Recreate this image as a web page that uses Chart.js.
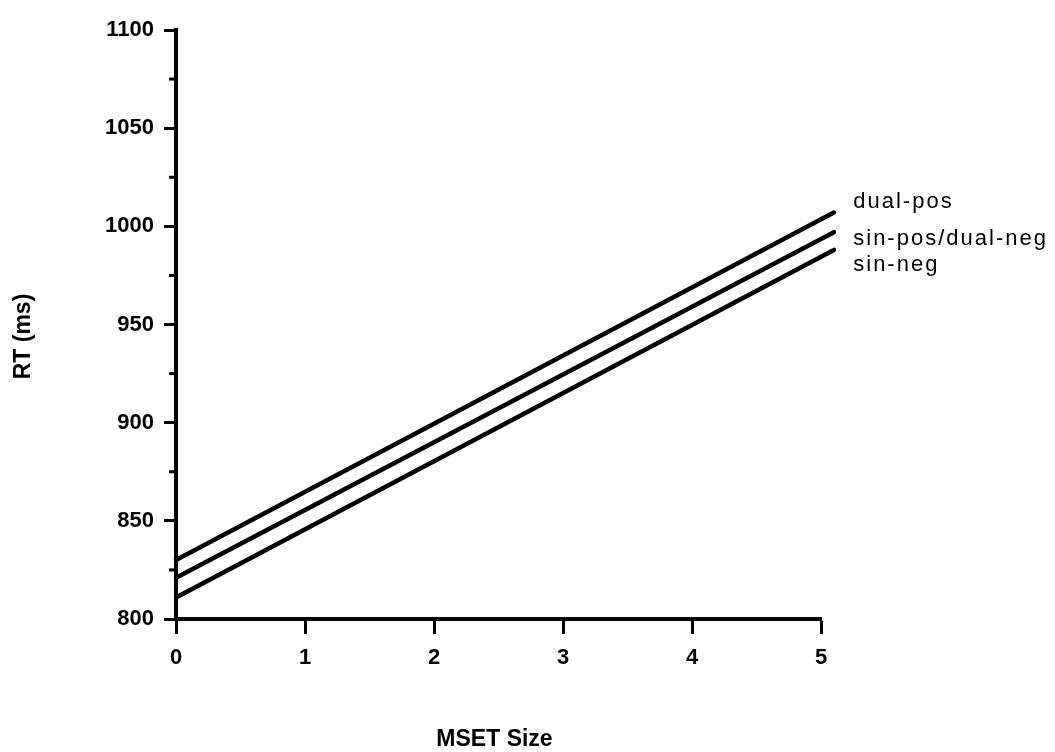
<!DOCTYPE html>
<html>
<head>
<meta charset="utf-8">
<script src="https://cdn.jsdelivr.net/npm/chart.js@4.4.0/dist/chart.umd.min.js"></script>
<style>
  html, body { margin: 0; padding: 0; background: #fff; }
  #wrap { width: 1055px; height: 752px; position: relative; }
</style>
</head>
<body>
<div id="wrap"><canvas id="c" width="1055" height="752"></canvas></div>
<script>
// ---- data ----
const msetSize = [0, 5.1];
const dualPos = [830, 1007];
const sinPosDualNeg = [821, 997];
const sinNeg = [811, 988];
const seriesNames = ['dual-pos', 'sin-pos/dual-neg', 'sin-neg'];
const yTickValues = [800, 850, 900, 950, 1000, 1050, 1100];
const yMinorValues = [825, 875, 925, 975, 1025, 1075];
const xTickValues = [0, 1, 2, 3, 4, 5];
const xTitle = 'MSET Size';
const yTitle = 'RT (ms)';
// label anchors (data units) for the right-hand series labels
const labelAnchorX = 5.25;
const labelAnchorY = [1009.5, 990.5, 977.5];

const seriesValues = [dualPos, sinPosDualNeg, sinNeg];

function toPoints(xs, ys) {
  return xs.map((x, i) => ({ x: x, y: ys[i] }));
}

const datasets = seriesValues.map((vals, i) => ({
  label: seriesNames[i],
  data: toPoints(msetSize, vals),
  borderColor: '#000',
  borderWidth: 4.5,
  borderCapStyle: 'round',
  pointRadius: 0,
  tension: 0,
  clip: false
}));

const decor = {
  id: 'decor',
  afterDraw(chart) {
    const ctx = chart.ctx;
    const xs = chart.scales.x, ys = chart.scales.y;
    const left = chart.chartArea.left;
    ctx.save();
    // minor ticks on the y axis
    ctx.strokeStyle = '#000';
    ctx.lineWidth = 3;
    yMinorValues.forEach(v => {
      const py = ys.getPixelForValue(v);
      ctx.beginPath();
      ctx.moveTo(left - 7, py);
      ctx.lineTo(left, py);
      ctx.stroke();
    });
    // series labels
    ctx.fillStyle = '#000';
    ctx.font = '22px "Liberation Sans", Arial, sans-serif';
    ctx.textAlign = 'left';
    ctx.textBaseline = 'alphabetic';
    try { ctx.letterSpacing = '2px'; } catch (e) {}
    const lx = xs.getPixelForValue(labelAnchorX);
    seriesNames.forEach((name, i) => {
      ctx.fillText(name, lx, ys.getPixelForValue(labelAnchorY[i]));
    });
    try { ctx.letterSpacing = '0px'; } catch (e) {}
    // axis titles
    ctx.font = 'bold 23px "Liberation Sans", Arial, sans-serif';
    ctx.textAlign = 'center';
    ctx.textBaseline = 'middle';
    const ca = chart.chartArea;
    ctx.fillText(xTitle, (ca.left + ca.right) / 2 - 4, ca.bottom + 121);
    ctx.translate(24, (ca.top + ca.bottom) / 2 + 12);
    ctx.rotate(-Math.PI / 2);
    ctx.fillText(yTitle, 0, 0);
    ctx.restore();
  }
};

const tickFont = { family: '"Liberation Sans", Arial, sans-serif', size: 22, weight: 'bold' };

new Chart(document.getElementById('c'), {
  type: 'line',
  data: { datasets: datasets },
  options: {
    responsive: false,
    animation: false,
    layout: { padding: { left: 0, top: 30, right: 234, bottom: 0 } },
    plugins: { legend: { display: false }, tooltip: { enabled: false } },
    scales: {
      x: {
        type: 'linear',
        min: 0, max: 5,
        afterBuildTicks: s => { s.ticks = xTickValues.map(v => ({ value: v })); },
        afterFit: s => { s.height = 133; },
        ticks: {
          color: '#000',
          padding: 11,
          font: tickFont,
          callback: v => String(v)
        },
        grid: { drawOnChartArea: false, tickLength: 15, tickWidth: 3, tickColor: '#000' },
        border: { color: '#000', width: 4 }
      },
      y: {
        type: 'linear',
        min: 800, max: 1100,
        afterBuildTicks: s => { s.ticks = yTickValues.map(v => ({ value: v })); },
        afterFit: s => { s.width = 176; },
        ticks: {
          color: '#000',
          padding: 10,
          font: tickFont,
          callback: v => String(v)
        },
        grid: { drawOnChartArea: false, tickLength: 12, tickWidth: 3, tickColor: '#000' },
        border: { color: '#000', width: 4 }
      }
    }
  },
  plugins: [decor]
});
</script>
</body>
</html>
